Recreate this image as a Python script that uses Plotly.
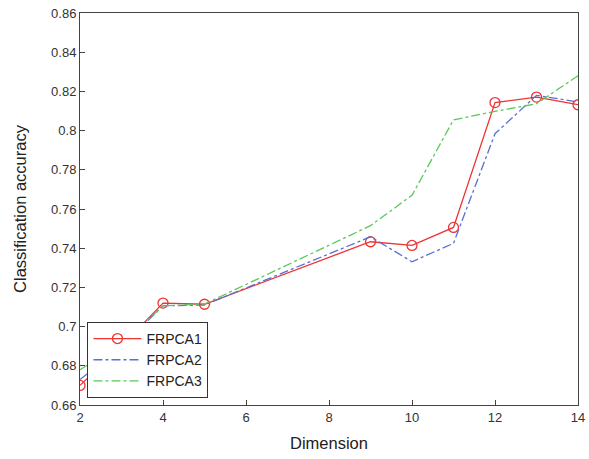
import plotly.graph_objects as go

dims = [2, 3, 4, 5, 9, 10, 11, 12, 13, 14]
frpca1 = [0.670, 0.690, 0.712, 0.7114, 0.7433, 0.7414, 0.7506, 0.8143, 0.8171, 0.8132]
frpca2 = [0.673, 0.690, 0.7106, 0.711, 0.7458, 0.7331, 0.7425, 0.7984, 0.818, 0.8146]
frpca3 = [0.678, 0.691, 0.7106, 0.7115, 0.7515, 0.767, 0.8055, 0.8098, 0.8137, 0.828]

x_ticks = [2, 4, 6, 8, 10, 12, 14]
y_ticks = [0.66, 0.68, 0.70, 0.72, 0.74, 0.76, 0.78, 0.80, 0.82, 0.84, 0.86]
y_tick_text = ["0.66", "0.68", "0.7", "0.72", "0.74", "0.76", "0.78", "0.8", "0.82", "0.84", "0.86"]

fig = go.Figure()
fig.add_trace(go.Scatter(x=dims, y=frpca1, name="FRPCA1", mode="lines+markers",
                         line=dict(color="#ee3333", width=1.3),
                         marker=dict(symbol="circle-open", size=10, color="#ee3333", line=dict(width=1.3))))
fig.add_trace(go.Scatter(x=dims, y=frpca2, name="FRPCA2", mode="lines",
                         line=dict(color="#5a6fd4", width=1.3, dash="dashdot")))
fig.add_trace(go.Scatter(x=dims, y=frpca3, name="FRPCA3", mode="lines",
                         line=dict(color="#58c858", width=1.3, dash="dashdot")))

axis_common = dict(showline=True, linecolor="#444444", linewidth=1, mirror=True,
                   ticks="inside", ticklen=5, tickcolor="#444444", showgrid=False,
                   zeroline=False, automargin=False,
                   tickfont=dict(family="Liberation Sans, Arial", size=13, color="#333333"))

fig.update_xaxes(range=[2, 14], tickvals=x_ticks, **axis_common,
                 title=dict(text="Dimension", font=dict(family="Liberation Sans, Arial", size=16.5, color="#222222"), standoff=13))
fig.update_yaxes(range=[0.66, 0.86], tickvals=y_ticks, ticktext=y_tick_text, **axis_common,
                 title=dict(text="Classification accuracy", font=dict(family="Liberation Sans, Arial", size=16.5, color="#222222"), standoff=20))

fig.update_layout(
    width=589, height=459,
    margin=dict(l=80, r=11, t=13, b=54),
    paper_bgcolor="white", plot_bgcolor="white",
    showlegend=True,
    legend=dict(x=0.015, y=0.018, xanchor="left", yanchor="bottom",
                bordercolor="#333333", borderwidth=1, bgcolor="white",
                font=dict(family="Liberation Sans, Arial", size=14, color="#222222"),
                tracegroupgap=0, itemwidth=48),
)

fig.write_html("out.html")
